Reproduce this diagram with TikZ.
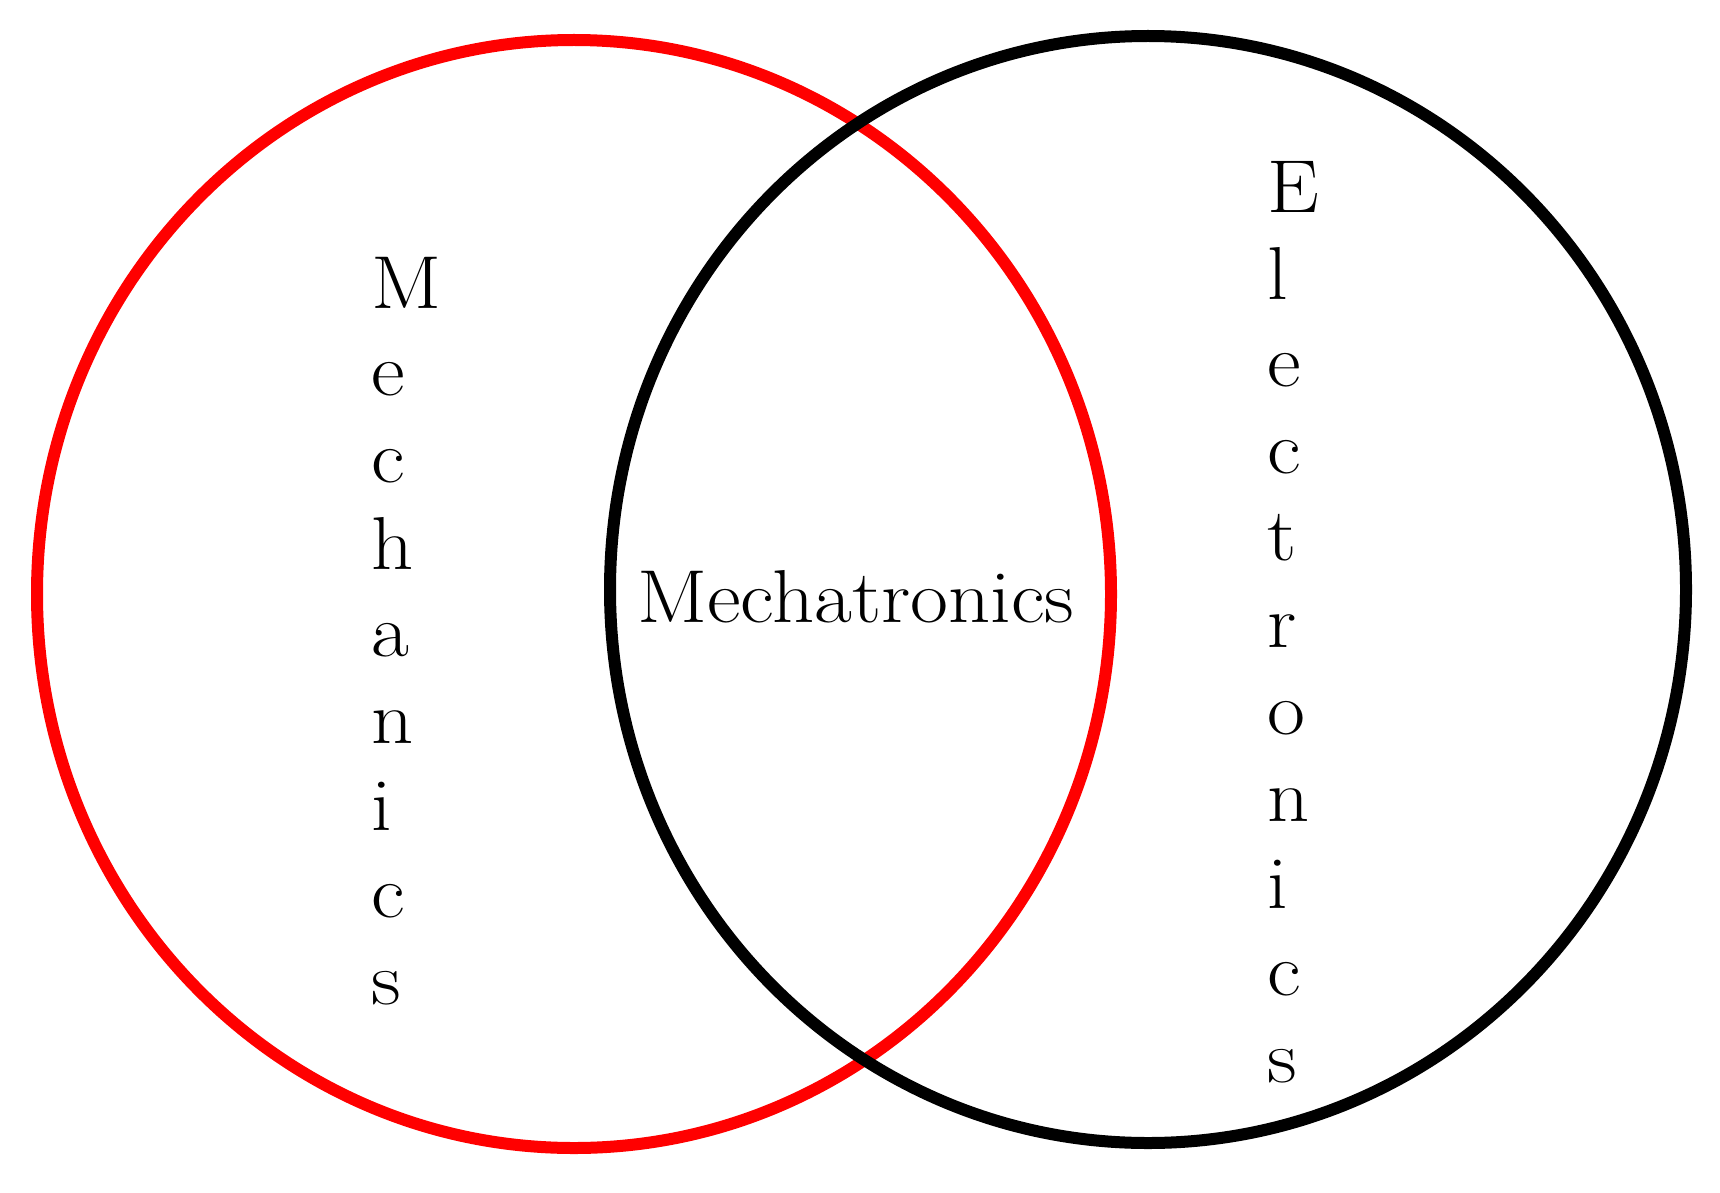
\documentclass[tikz,border=0pt]{standalone}
\begin{document}
\begin{tikzpicture}[x=1pt,y=-1pt,
  ring/.style={line width=12pt},
  letter/.style={anchor=base west,inner sep=0pt,outer sep=0pt,xscale=1.1,font=\fontsize{75}{87}\selectfont}]
\useasboundingbox (0,0) rectangle (1720,1193);
\fill[white] (0,0) rectangle (1720,1193);
\draw[ring,red] (574,594) ellipse [x radius=537, y radius=554];
\draw[ring,black] (1148,589.5) ellipse [x radius=538, y radius=553.5];
\foreach \ch [count=\i] in {M,e,c,h,a,n,i,c,s}
  \node[letter] (mech\i) at (371,{308+87*(\i-1)}) {\ch};
\foreach \ch [count=\i] in {E,l,e,c,t,r,o,n,i,c,s}
  \node[letter] (elec\i) at (1267,{212+87*(\i-1)}) {\ch};
\node[letter] (mecha) at (637,622) {Mechatronics};
\end{tikzpicture}
\end{document}
